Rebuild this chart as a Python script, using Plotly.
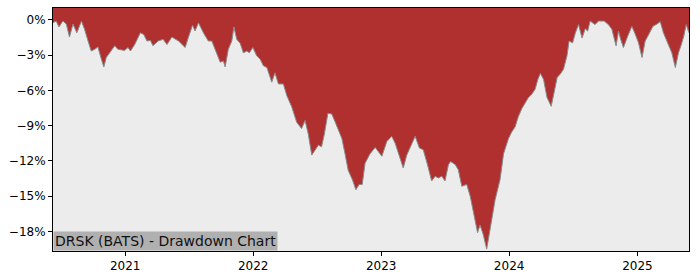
import plotly.graph_objects as go

dates = [
    "2020-06-09", "2020-06-18", "2020-06-26", "2020-07-07", "2020-07-17", "2020-07-26",
    "2020-08-05", "2020-08-16", "2020-08-29", "2020-09-07", "2020-09-17", "2020-09-26",
    "2020-10-06", "2020-10-15", "2020-10-25", "2020-11-01", "2020-11-08", "2020-11-18",
    "2020-12-02", "2020-12-11", "2020-12-30",
    "2021-01-09", "2021-01-16", "2021-01-28", "2021-02-13", "2021-02-23", "2021-03-04",
    "2021-03-14", "2021-03-21", "2021-04-05", "2021-04-19", "2021-04-30", "2021-05-14",
    "2021-06-02", "2021-06-21", "2021-06-30", "2021-07-12", "2021-07-19", "2021-07-29",
    "2021-08-12", "2021-08-26", "2021-09-05", "2021-09-19", "2021-09-29", "2021-10-08",
    "2021-10-13", "2021-10-22", "2021-11-01", "2021-11-07", "2021-11-15", "2021-11-25",
    "2021-12-04", "2021-12-14", "2021-12-21", "2021-12-31",
    "2022-01-11", "2022-01-21", "2022-01-30", "2022-02-09", "2022-02-18", "2022-02-23",
    "2022-03-04", "2022-03-14", "2022-03-28", "2022-04-07", "2022-04-21", "2022-05-05",
    "2022-05-19", "2022-05-29", "2022-06-07", "2022-06-17", "2022-06-26", "2022-07-06",
    "2022-07-15", "2022-07-23", "2022-08-02", "2022-08-13", "2022-08-23", "2022-09-11",
    "2022-09-20", "2022-09-29", "2022-10-11", "2022-10-21", "2022-10-30", "2022-11-08",
    "2022-11-16", "2022-11-30", "2022-12-15", "2022-12-24",
    "2023-01-03", "2023-01-17", "2023-01-31", "2023-02-10", "2023-02-24", "2023-03-05",
    "2023-03-15", "2023-03-29", "2023-04-08", "2023-04-20", "2023-05-01", "2023-05-13",
    "2023-05-25", "2023-06-04", "2023-06-13", "2023-06-23", "2023-07-02", "2023-07-12",
    "2023-07-18", "2023-07-31", "2023-08-09", "2023-08-19", "2023-09-02", "2023-09-12",
    "2023-09-23", "2023-10-03", "2023-10-10", "2023-10-19", "2023-10-29", "2023-11-12",
    "2023-11-22", "2023-12-06", "2023-12-16", "2023-12-30",
    "2024-01-08", "2024-01-18", "2024-01-27", "2024-02-06", "2024-02-15", "2024-02-25",
    "2024-03-06", "2024-03-15", "2024-03-23", "2024-03-30", "2024-04-08", "2024-04-18",
    "2024-04-30", "2024-05-10", "2024-05-17", "2024-05-26", "2024-06-04", "2024-06-14",
    "2024-06-20", "2024-06-30", "2024-07-08", "2024-07-17", "2024-07-27", "2024-08-05",
    "2024-08-12", "2024-08-19", "2024-09-02", "2024-09-12", "2024-09-28", "2024-10-10",
    "2024-10-20", "2024-11-01", "2024-11-08", "2024-11-14", "2024-11-22", "2024-12-04",
    "2024-12-16", "2024-12-26",
    "2025-01-04", "2025-01-14", "2025-01-23", "2025-02-02", "2025-02-14", "2025-02-26",
    "2025-03-07", "2025-03-16", "2025-03-28", "2025-04-09", "2025-04-19", "2025-04-28",
    "2025-05-05", "2025-05-13", "2025-05-20", "2025-05-28",
]

drawdown_pct = [
    -0.25, -0.1, -0.6, -0.1, -0.35, -1.46,
    -0.35, -1.1, -0.1, -0.8, -1.8, -2.65,
    -2.5, -2.3, -3.35, -4.0, -3.2, -2.8,
    -2.2, -2.5, -2.6,
    -2.35, -2.65, -2.1, -1.1, -1.25, -1.8,
    -1.75, -2.2, -1.8, -1.65, -2.1, -1.46,
    -1.8, -2.35, -1.5, -0.45, -0.95, -0.25,
    -1.1, -1.8, -1.8, -2.9, -3.6, -3.5,
    -4.0, -2.5, -1.8, -0.6, -1.65, -2.0,
    -2.8, -2.65, -2.8, -2.35,
    -3.05, -3.35, -3.9, -4.05, -4.75, -5.3,
    -4.5, -5.45, -5.45, -6.45, -7.4, -8.7,
    -9.25, -8.55, -9.7, -11.5, -11.1, -10.65,
    -10.8, -9.7, -7.95, -8.0, -8.7, -10.1,
    -11.4, -12.8, -13.6, -14.45, -14.0, -14.0,
    -12.2, -11.4, -10.85, -11.2,
    -11.6, -10.35, -9.9, -10.5, -11.9, -12.6,
    -11.5, -10.5, -9.9, -10.9, -11.05, -12.3,
    -13.7, -13.3, -13.45, -13.3, -13.7, -12.3,
    -12.05, -12.3, -12.75, -14.15, -14.0, -15.0,
    -16.5, -18.1, -17.45, -18.25, -19.5, -17.0,
    -15.3, -13.6, -11.4, -10.1,
    -9.55, -9.1, -8.25, -7.55, -7.15, -6.6,
    -6.3, -5.9, -5.05, -4.55, -5.05, -6.6,
    -7.35, -5.75, -4.9, -4.6, -4.2, -3.05,
    -1.8, -1.95, -1.1, -0.4, -1.55, -0.75,
    -0.95, -0.1, -0.4, -0.1, -0.1, -0.4,
    -0.8, -2.2, -0.95, -1.65, -2.35, -1.4,
    -0.55, -1.25,
    -1.95, -3.2, -1.8, -1.25, -0.55, -0.35,
    -0.15, -1.1, -1.95, -2.8, -4.05, -2.8,
    -2.2, -1.4, -0.4, -1.1,
]

tick_vals = [0, -3, -6, -9, -12, -15, -18]
tick_text = ["0%", "\u22123%", "\u22126%", "\u22129%", "\u221212%", "\u221215%", "\u221218%"]
year_ticks = ["2021-01-01", "2022-01-01", "2023-01-01", "2024-01-01", "2025-01-01"]
year_text = ["2021", "2022", "2023", "2024", "2025"]

Y_TOP = 1.01
Y_BOTTOM = -19.66
title_text = "DRSK (BATS) - Drawdown Chart"

fig = go.Figure()
fig.add_trace(go.Scatter(
    x=dates, y=[Y_TOP] * len(dates), mode="lines",
    line=dict(width=0, color="rgba(0,0,0,0)"), hoverinfo="skip", showlegend=False,
))
fig.add_trace(go.Scatter(
    x=dates, y=drawdown_pct, mode="lines",
    line=dict(width=1, color="#8a8a8a"),
    fill="tonexty", fillcolor="#B03030", showlegend=False,
))

fig.update_layout(
    width=700, height=280,
    margin=dict(l=53, r=11, t=7, b=28),
    paper_bgcolor="white",
    plot_bgcolor="#ECECEC",
    font=dict(family="DejaVu Sans", size=12, color="black"),
    showlegend=False,
)
fig.update_xaxes(
    range=[dates[0], dates[-1]],
    tickvals=year_ticks, ticktext=year_text,
    showgrid=False, zeroline=False,
    showline=True, linecolor="black", linewidth=1, mirror=True,
    ticks="outside", ticklen=4, tickcolor="black",
)
fig.update_yaxes(
    range=[Y_BOTTOM, Y_TOP],
    tickvals=tick_vals, ticktext=tick_text,
    showgrid=False, zeroline=False,
    showline=True, linecolor="black", linewidth=1, mirror=True,
    ticks="outside", ticklen=4, tickcolor="black",
)
fig.add_annotation(
    text=title_text, xref="paper", yref="paper", x=0, y=0,
    xanchor="left", yanchor="bottom", showarrow=False,
    font=dict(family="DejaVu Sans", size=14, color="#111111"),
    bgcolor="#B0B0B0", borderpad=1,
)

fig.write_html("out.html")
